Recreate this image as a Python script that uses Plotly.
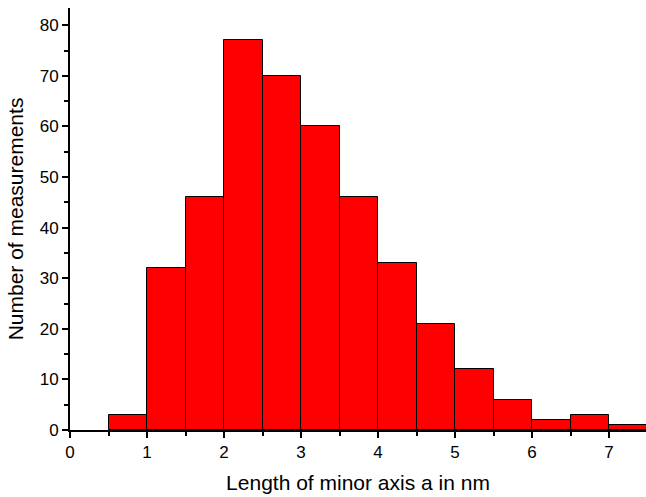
import plotly.graph_objects as go

bin_starts = [0.5, 1.0, 1.5, 2.0, 2.5, 3.0, 3.5, 4.0, 4.5, 5.0, 5.5, 6.0, 6.5, 7.0]
bin_width = 0.5
counts = [3, 32, 46, 77, 70, 60, 46, 33, 21, 12, 6, 2, 3, 1]
x_ticks = [0, 1, 2, 3, 4, 5, 6, 7]
y_ticks = [0, 10, 20, 30, 40, 50, 60, 70, 80]

centers = [s + bin_width / 2 for s in bin_starts]

fig = go.Figure()
fig.add_trace(go.Bar(
    x=centers, y=counts, width=[bin_width] * len(counts),
    marker=dict(color="#ff0000", line=dict(color="black", width=1)),
))

font = "Liberation Sans, Arial, sans-serif"
fig.update_layout(
    width=646, height=497,
    margin=dict(l=70, r=0, t=8, b=67),
    paper_bgcolor="white", plot_bgcolor="white",
    showlegend=False, bargap=0,
    font=dict(family=font, color="black", size=17),
    xaxis=dict(
        range=[0, 7.48], tickvals=x_ticks, ticks="outside", ticklen=6, tickwidth=1.5,
        tickcolor="black", showline=True, linecolor="black", linewidth=2,
        showgrid=False, zeroline=False,
        minor=dict(tickvals=[0.5 + i for i in range(8)], ticks="outside", ticklen=4,
                   tickwidth=1.5, tickcolor="black"),
        title=dict(text="Length of minor axis a in nm", font=dict(size=21), standoff=14),
        tickfont=dict(size=17),
    ),
    yaxis=dict(
        range=[0, 83.4], tickvals=y_ticks, ticks="outside", ticklen=6, tickwidth=1.5,
        tickcolor="black", showline=True, linecolor="black", linewidth=2,
        showgrid=False, zeroline=False,
        minor=dict(tickvals=[5 + 10 * i for i in range(8)], ticks="outside", ticklen=4,
                   tickwidth=1.5, tickcolor="black"),
        title=dict(text="Number of measurements", font=dict(size=21), standoff=10),
        tickfont=dict(size=17),
    ),
)

fig.write_html(
    "out.html",
    config={"displayModeBar": False},
    post_script="document.body.style.margin='0';document.body.style.overflow='hidden';",
)
